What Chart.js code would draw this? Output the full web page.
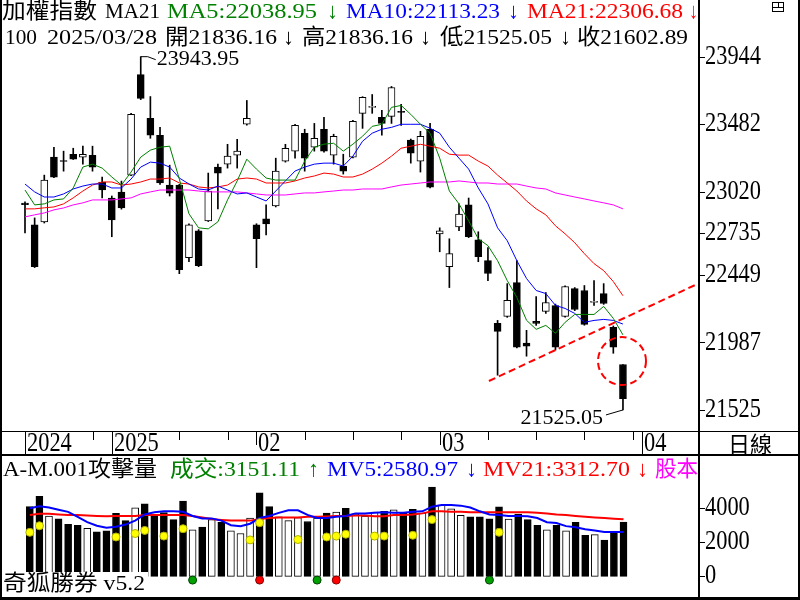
<!DOCTYPE html>
<html>
<head>
<meta charset="utf-8">
<title>加權指數 日線</title>
<script src="https://cdn.jsdelivr.net/npm/chart.js@4.4.1/dist/chart.umd.min.js"></script>
<style>
  body { margin: 0; background: #ffffff; }
  #wrap { position: relative; width: 800px; height: 600px; overflow: hidden; }
  #priceChart { position: absolute; left: 0; top: 0; }
  #volChart { position: absolute; left: 0; top: 456px; }
</style>
</head>
<body>
<div id="wrap">
  <canvas id="priceChart" width="800" height="456"></canvas>
  <canvas id="volChart" width="800" height="144"></canvas>
</div>
<script>
// daily candles, last bar 2025/03/28
var openP  = [22942,22792,22813,23256,23232,23276,23256,23269,23085,22976,23017,23133,23821,23522,23406,23065,23065,22568,22752,22820,23188,23208,23269,23481,22792,22833,22922,23229,23297,23419,23324,23447,23269,23194,23256,23556,23597,23528,23535,23569,23372,23229,23447,22731,22506,22779,22929,22690,22547,22118,22166,22397,21982,22131,22200,22240,22166,22356,22343,22261,22322,22091,21836.16];
var highP  = [22950,22840,23133,23324,23297,23317,23331,23331,23119,22990,23092,23556,23943.95,23671,23460,23201,23070,22800,22760,23147,23208,23344,23378,23644,22800,22929,23249,23344,23480,23447,23487,23528,23413,23276,23508,23670,23685,23576,23740,23617,23380,23433,23487,22772,22697,22936,22976,22745,22636,22138,22390,22547,22070,22302,22329,22250,22375,22363,22377,22411,22390,22100,21836.16];
var lowP   = [22738,22500,22805,23115,23160,23240,23208,23160,22976,22711,22900,23130,23650,23385,23070,22990,22458,22540,22506,22815,22901,23181,23181,23475,22499,22724,22915,23222,23249,23160,23297,23290,23208,23140,23250,23453,23556,23406,23487,23474,23215,23154,23045,22608,22363,22752,22705,22540,22411,21763,22159,21950,21893,22104,22186,21934,22160,22205,22105,22240,22248,21913,21525.05];
var closeP = [22930,22506,23099,23119,23226,23242,23276,23188,23031,22826,22908,23549,23658,23406,23079,23010,22486,22792,22513,23024,23147,23263,23297,23522,22697,22799,23160,23317,23474,23249,23385,23297,23399,23160,23501,23665,23603,23487,23733,23562,23283,23399,23051,22752,22595,22867,22711,22574,22459,22063,22275,21954,21961,22118,22261,21954,22370,22213,22111,22268,22254,21954,21602.89];

var ma5  = [23031,22929,22936,22963,22970,23045,23188,23208,23181,23120,23065,23154,23256,23304,23324,23331,23106,22868,22772,22765,22813,22963,23093,23242,23174,23113,23099,23099,23099,23229,23324,23345,23351,23297,23345,23399,23467,23481,23597,23610,23549,23481,23420,23249,23024,22936,22820,22697,22650,22547,22411,22295,22139,22077,22104,22050,22125,22179,22179,22179,22234,22152,22039];
var ma10 = [23072,23018,22983,22983,23004,23038,23058,23072,23072,23045,23045,23106,23188,23222,23215,23188,23113,23072,23038,23031,23058,23031,23004,23011,22983,22956,23024,23093,23161,23188,23208,23215,23215,23195,23263,23365,23420,23447,23460,23481,23481,23481,23454,23420,23324,23249,23174,23045,22936,22772,22684,22547,22425,22343,22322,22241,22220,22186,22125,22138,22145,22138,22113];
var ma21 = [22902,22902,22909,22915,22936,22977,23024,23065,23086,23086,23065,23072,23086,23106,23106,23113,23079,23072,23052,23045,23052,23065,23106,23113,23106,23079,23079,23079,23093,23113,23127,23147,23140,23120,23120,23140,23174,23215,23263,23317,23331,23344,23331,23317,23276,23270,23270,23229,23195,23133,23079,23024,22956,22902,22861,22786,22731,22670,22595,22527,22479,22404,22307];
var ma60 = [22847,22861,22874,22895,22908,22929,22943,22963,22963,22963,22970,22977,23004,23018,23031,23031,23031,23031,23024,23018,23018,23018,23018,23011,23004,22997,22997,22997,23004,23011,23011,23018,23024,23031,23031,23038,23038,23038,23052,23065,23072,23079,23086,23086,23086,23093,23086,23079,23079,23072,23072,23072,23058,23045,23038,23011,22997,22983,22970,22956,22943,22929,22902];

var volume = [4050,4650,3500,3350,3030,2970,2790,2590,2650,3660,3240,3980,4220,3510,3710,3300,4380,2700,2860,3300,3140,2650,2490,3390,4860,4050,3460,3240,3410,3190,3390,3680,3730,3950,3640,3510,3730,3780,3870,3690,3890,3680,5190,4140,3930,3550,3460,3460,3350,4040,3330,3620,3300,2970,2700,2970,2650,3140,2380,2430,2110,2520,3151.11];
var mv5  = [3960,4070,4000,3870,3750,3460,3150,2940,2830,2880,3010,3240,3600,3730,3780,3780,3750,3510,3370,3370,3240,2970,2920,3060,3390,3510,3690,3840,3840,3570,3390,3390,3460,3510,3660,3660,3690,3730,3690,3690,3750,3780,4050,4140,4140,4110,4000,3780,3600,3570,3510,3510,3490,3390,3150,3100,2920,2850,2740,2670,2580,2580,2580.97];
var mv21 = [3570,3640,3640,3600,3570,3560,3540,3510,3490,3510,3510,3510,3570,3570,3570,3570,3570,3510,3420,3330,3280,3240,3240,3240,3330,3390,3420,3420,3420,3460,3460,3480,3510,3510,3540,3540,3490,3490,3570,3570,3600,3660,3780,3780,3750,3750,3730,3730,3730,3730,3730,3730,3730,3690,3660,3600,3570,3510,3460,3420,3390,3350,3312.70];

// 攻擊量 markers
var attackIdx = [0,1,9,11,12,14,16,23,24,28,31,32,33,36,37,40,42,49];
var attackVal = [2560,2940,2290,2490,2670,2340,2770,2120,3120,2140,2290,2340,2450,2340,2340,2390,3300,2560];
var buyIdx  = [17,30,48];
var sellIdx = [24,32];
var signalLevel = -216;

// axes
var priceTicks = [23944,23482,23020,22735,22449,21987,21525];
var volTicks = [0,2000,4000];
var monthTickIdx = [0,9,24,43,64];
var monthTickLabels = ['2024','2025','02','03','04'];
var weekTickIdx = [7,16,21,29,34,39,48,53,58,63];

// hand drawn marks (bar index, price)
var trendLine = [[48.1,21723],[69.8,22390]];
var circleMark = [61.9,21860];

var SERIF = '"Liberation Serif", "Noto Sans CJK TC", serif';
var HEAD_FONT = '22px ' + SERIF;
var AXIS_FONT = '27px ' + SERIF;
var GREEN = '#008000', BLUE = '#0000ff', RED = '#ff0000', MAGENTA = '#ff00ff';

var header1 = [
  ['加權指數', 2, 97, '#000'], ['MA21', 105, 160, '#000'],
  ['MA5:22038.95', 167, 317, GREEN], ['↓', 327, 338, GREEN],
  ['MA10:22113.23', 346, 500, BLUE], ['↓', 508, 519, BLUE],
  ['MA21:22306.68', 527, 683, RED], ['↓', 689, 698, RED]
];
var header2 = [
  ['100', 5, 37, '#000'], ['2025/03/28', 47, 157, '#000'],
  ['開21836.16', 165, 277, '#000'], ['↓', 283, 294, '#000'],
  ['高21836.16', 302, 413, '#000'], ['↓', 420, 431, '#000'],
  ['低21525.05', 440, 552, '#000'], ['↓', 560, 571, '#000'],
  ['收21602.89', 577, 688, '#000']
];
var volHeader = [
  ['A-M.001攻擊量', 3, 157, '#000'], ['成交:3151.11', 170, 300, GREEN], ['↑', 308, 319, GREEN],
  ['MV5:2580.97', 327, 458, BLUE], ['↓', 466, 477, BLUE],
  ['MV21:3312.70', 483, 630, RED], ['↓', 637, 648, RED], ['股本', 655, 698, MAGENTA]
];

function pointsOf(arr) {
  return arr.map(function (v, i) { return { x: i, y: v }; });
}

function drawText(ctx, s, x, y, color, font, sx, align) {
  ctx.save();
  ctx.font = font;
  ctx.fillStyle = color;
  ctx.textBaseline = 'middle';
  ctx.textAlign = align || 'left';
  ctx.translate(x, y);
  ctx.scale(sx || 1, 1);
  ctx.fillText(s, 0, 0);
  ctx.restore();
}

// squeeze/stretch a string so it spans x0..x1
function fitText(ctx, s, x0, x1, y, color, font) {
  ctx.save();
  ctx.font = font;
  var w = ctx.measureText(s).width;
  ctx.restore();
  drawText(ctx, s, x0, y, color, font, (x1 - x0) / w, 'left');
}

function isUp(i) { return closeP[i] >= openP[i]; }

var priceDecor = {
  id: 'priceDecor',
  beforeDraw: function (chart) {
    var ctx = chart.ctx;
    ctx.save();
    ctx.fillStyle = '#fff';
    ctx.fillRect(0, 0, chart.width, chart.height);
    ctx.restore();
  },
  afterDatasetsDraw: function (chart) {
    var ctx = chart.ctx, xs = chart.scales.x, ys = chart.scales.y, a = chart.chartArea;
    ctx.save();
    ctx.beginPath();
    ctx.rect(a.left, a.top, a.right - a.left, a.bottom - a.top);
    ctx.clip();
    ctx.strokeStyle = RED;
    ctx.lineWidth = 2;
    ctx.setLineDash([7, 4]);
    ctx.beginPath();
    ctx.moveTo(xs.getPixelForValue(trendLine[0][0]), ys.getPixelForValue(trendLine[0][1]));
    ctx.lineTo(xs.getPixelForValue(trendLine[1][0]), ys.getPixelForValue(trendLine[1][1]));
    ctx.stroke();
    ctx.beginPath();
    ctx.arc(xs.getPixelForValue(circleMark[0]), ys.getPixelForValue(circleMark[1]), 24, 0, Math.PI * 2);
    ctx.stroke();
    ctx.restore();

    // highest high / lowest low callouts
    var hi = highP.indexOf(Math.max.apply(null, highP));
    var lo = lowP.indexOf(Math.min.apply(null, lowP));
    var hx = xs.getPixelForValue(hi), hy = ys.getPixelForValue(highP[hi]);
    var lx = xs.getPixelForValue(lo), ly = ys.getPixelForValue(lowP[lo]);
    ctx.save();
    ctx.strokeStyle = '#000';
    ctx.lineWidth = 1;
    ctx.beginPath();
    ctx.moveTo(hx, hy); ctx.lineTo(hx + 7, hy); ctx.lineTo(hx + 15, hy + 3);
    ctx.moveTo(lx, ly); ctx.lineTo(lx - 17, ly + 5);
    ctx.stroke();
    ctx.restore();
    drawText(ctx, highP[hi].toFixed(2), hx + 16, hy + 3, '#000', HEAD_FONT, 1, 'left');
    drawText(ctx, lowP[lo].toFixed(2), lx - 20, ly + 8, '#000', HEAD_FONT, 1, 'right');
  },
  afterDraw: function (chart) {
    var ctx = chart.ctx, xs = chart.scales.x, ys = chart.scales.y;
    header1.forEach(function (h) { fitText(ctx, h[0], h[1], h[2], 12, h[3], HEAD_FONT); });
    header2.forEach(function (h) { fitText(ctx, h[0], h[1], h[2], 38, h[3], HEAD_FONT); });

    ctx.save();
    ctx.fillStyle = '#000';
    // price axis labels
    ys.ticks.forEach(function (t) {
      var y = ys.getPixelForValue(t.value);
      ctx.fillRect(700, Math.round(y), 5, 1);
      drawText(ctx, String(t.value), 705, y, '#000', AXIS_FONT, 0.83, 'left');
    });
    // date band
    ctx.fillRect(0, 431, 800, 1);
    ctx.fillRect(0, 454, 800, 2);
    weekTickIdx.forEach(function (i) {
      ctx.fillRect(Math.round(xs.getPixelForValue(i)), 432, 1, 8);
    });
    var tickLen = [24, 24, 13, 13, 24];
    monthTickIdx.forEach(function (i, k) {
      var px = Math.round(xs.getPixelForValue(i));
      ctx.fillRect(px, 432, 1, tickLen[k]);
      drawText(ctx, monthTickLabels[k], px + 2, 444, '#000', AXIS_FONT, 0.83, 'left');
    });
    drawText(ctx, '日線', 750, 444, '#000', '22px "Noto Sans CJK TC"', 1, 'center');
    // frame
    ctx.fillRect(0, 0, 2, 456);
    ctx.fillRect(698, 0, 2, 456);
    ctx.fillRect(798, 0, 2, 456);
    ctx.strokeStyle = '#000';
    ctx.lineWidth = 1;
    ctx.strokeRect(772.5, 2.5, 11, 9);
    ctx.beginPath();
    ctx.moveTo(772, 7.5); ctx.lineTo(784, 7.5);
    ctx.moveTo(778.5, 2); ctx.lineTo(778.5, 8);
    ctx.stroke();
    ctx.restore();
  }
};

var volDecor = {
  id: 'volDecor',
  beforeDraw: function (chart) {
    var ctx = chart.ctx;
    ctx.save();
    ctx.fillStyle = '#fff';
    ctx.fillRect(0, 0, chart.width, chart.height);
    ctx.restore();
  },
  afterDraw: function (chart) {
    var ctx = chart.ctx, ys = chart.scales.y;
    volHeader.forEach(function (h) { fitText(ctx, h[0], h[1], h[2], 14, h[3], HEAD_FONT); });
    ctx.save();
    ctx.fillStyle = '#000';
    ys.ticks.forEach(function (t) {
      var y = ys.getPixelForValue(t.value);
      ctx.fillRect(700, Math.round(y), 5, 1);
      drawText(ctx, String(t.value), 705, y, '#000', AXIS_FONT, 0.83, 'left');
    });
    ctx.fillStyle = '#fff';
    ctx.fillRect(2, 116, 146, 25);
    ctx.restore();
    fitText(ctx, '奇狐勝券 v5.2', 3, 145, 128, '#000', HEAD_FONT);
    ctx.save();
    ctx.fillStyle = '#000';
    ctx.fillRect(0, 0, 2, 144);
    ctx.fillRect(698, 0, 2, 144);
    ctx.fillRect(798, 0, 2, 144);
    ctx.fillRect(0, 141, 800, 3);
    ctx.restore();
  }
};

function fixAxis(width) {
  return function (s) {
    s.width = width;
    s.paddingTop = 0;
    s.paddingBottom = 0;
  };
}

new Chart(document.getElementById('priceChart'), {
  type: 'bar',
  data: {
    datasets: [
      { type: 'line', label: 'MA5', data: pointsOf(ma5), borderColor: GREEN, borderWidth: 1, pointRadius: 0, order: 0 },
      { type: 'line', label: 'MA10', data: pointsOf(ma10), borderColor: BLUE, borderWidth: 1, pointRadius: 0, order: 0 },
      { type: 'line', label: 'MA21', data: pointsOf(ma21), borderColor: RED, borderWidth: 1, pointRadius: 0, order: 0 },
      { type: 'line', label: 'MA60', data: pointsOf(ma60), borderColor: MAGENTA, borderWidth: 1, pointRadius: 0, order: 0 },
      {
        label: 'body',
        data: openP.map(function (o, i) { return { x: i, y: [o, closeP[i]] }; }),
        backgroundColor: function (c) { return isUp(c.dataIndex) ? '#ffffff' : '#000000'; },
        borderColor: '#000', borderWidth: 1, borderSkipped: false,
        barThickness: 7, minBarLength: 1, grouped: false, order: 1
      },
      {
        label: 'wick',
        data: lowP.map(function (l, i) { return { x: i, y: [l, highP[i]] }; }),
        backgroundColor: '#000', borderWidth: 0,
        barThickness: 1, grouped: false, order: 2
      }
    ]
  },
  options: {
    responsive: false,
    animation: false,
    layout: { padding: 0 },
    plugins: { legend: { display: false }, tooltip: { enabled: false } },
    scales: {
      x: {
        type: 'linear', min: -2.592, max: 69.78, offset: false,
        grid: { display: false }, border: { display: false }, ticks: { display: false },
        afterFit: function (s) { s.height = 24; }
      },
      y: {
        position: 'right', min: 21374, max: 24332,
        grid: { display: false }, border: { display: false }, ticks: { display: false },
        afterBuildTicks: function (s) { s.ticks = priceTicks.map(function (v) { return { value: v }; }); },
        afterFit: fixAxis(102)
      }
    }
  },
  plugins: [priceDecor]
});

new Chart(document.getElementById('volChart'), {
  type: 'bar',
  data: {
    datasets: [
      {
        type: 'scatter', label: 'attack',
        data: attackIdx.map(function (i, k) { return { x: i, y: attackVal[k] }; }),
        pointRadius: 4, backgroundColor: '#ffff00', borderColor: '#b0b000', borderWidth: 1, order: 0
      },
      {
        type: 'scatter', label: 'buy',
        data: buyIdx.map(function (i) { return { x: i, y: signalLevel }; }),
        pointRadius: 4, backgroundColor: '#00a000', borderColor: '#004000', borderWidth: 1, order: 0
      },
      {
        type: 'scatter', label: 'sell',
        data: sellIdx.map(function (i) { return { x: i, y: signalLevel }; }),
        pointRadius: 4, backgroundColor: '#ff0000', borderColor: '#800000', borderWidth: 1, order: 0
      },
      { type: 'line', label: 'MV5', data: pointsOf(mv5), borderColor: BLUE, borderWidth: 2, pointRadius: 0, order: 1 },
      { type: 'line', label: 'MV21', data: pointsOf(mv21), borderColor: RED, borderWidth: 2, pointRadius: 0, order: 1 },
      {
        label: 'volume', data: pointsOf(volume),
        backgroundColor: function (c) { return isUp(c.dataIndex) ? '#ffffff' : '#000000'; },
        borderColor: '#000', borderWidth: 1, borderSkipped: false,
        barThickness: 7, grouped: false, order: 2
      }
    ]
  },
  options: {
    responsive: false,
    animation: false,
    layout: { padding: 0 },
    plugins: { legend: { display: false }, tooltip: { enabled: false } },
    scales: {
      x: { type: 'linear', min: -2.592, max: 69.78, offset: false, display: false },
      y: {
        position: 'right', min: -1081, max: 6703,
        grid: { display: false }, border: { display: false }, ticks: { display: false },
        afterBuildTicks: function (s) { s.ticks = volTicks.map(function (v) { return { value: v }; }); },
        afterFit: fixAxis(102)
      }
    }
  },
  plugins: [volDecor]
});
</script>
</body>
</html>
